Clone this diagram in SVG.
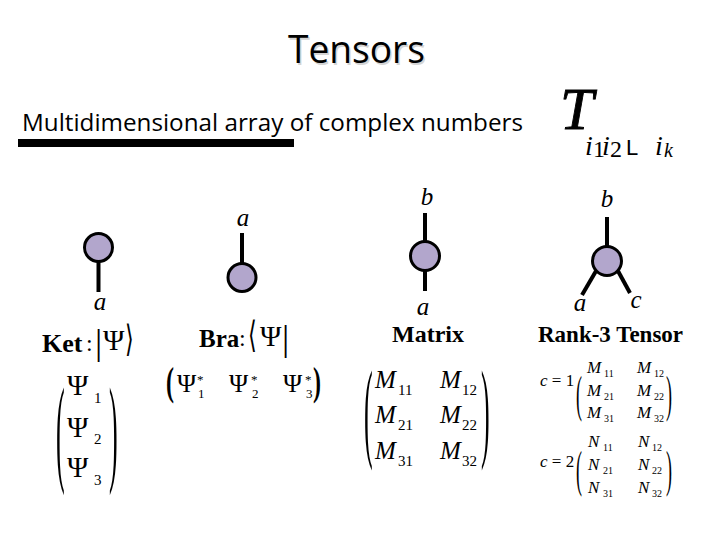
<svg xmlns="http://www.w3.org/2000/svg" width="720" height="540" viewBox="0 0 720 540">
<style>
.t{font-family:"Open Sans","Liberation Sans",sans-serif;fill:#000}
.s{font-family:"Liberation Serif","DejaVu Serif",serif;fill:#000}
.i{font-style:italic}
.b{font-weight:bold}
.node{fill:#b2a6cc;stroke:#000;stroke-width:3}
.leg{stroke:#000;stroke-width:4;stroke-linecap:butt}
</style>
<rect width="720" height="540" fill="#fff"/>
<g id="title">
<text class="t" x="289.5" y="64.5" font-size="38" textLength="137" lengthAdjust="spacingAndGlyphs" style="fill:#d4d4d4">Tensors</text>
<text class="t" x="288" y="63" font-size="38" textLength="137" lengthAdjust="spacingAndGlyphs">Tensors</text>
</g>
<g id="subtitle">
<text class="t" x="22" y="131" font-size="23" textLength="501" lengthAdjust="spacingAndGlyphs">Multidimensional array of complex numbers</text>
<rect x="18" y="139" width="276" height="8" fill="#000"/>
</g>
<g id="tensor-symbol">
<text class="s"><tspan class="i" x="560" y="129" font-size="60" stroke="#000" stroke-width="0.9">T</tspan><tspan class="i" x="585" y="155" font-size="28">i</tspan><tspan x="593" y="157" font-size="24">1</tspan><tspan class="i" x="602" y="155" font-size="28">i</tspan><tspan x="610" y="157" font-size="24">2</tspan><tspan x="626" y="155" font-size="22" style="font-family:'Liberation Sans',sans-serif">L</tspan><tspan class="i" x="655" y="155" font-size="28">i</tspan><tspan class="i" x="664" y="157" font-size="20">k</tspan></text>
</g>
<g id="connectors">
<line class="leg" x1="98.5" y1="262" x2="98.5" y2="292"/>
<line class="leg" x1="242" y1="233" x2="242" y2="263"/>
<line class="leg" x1="425" y1="213" x2="425" y2="242"/>
<line class="leg" x1="425" y1="270" x2="425" y2="291"/>
<line class="leg" x1="607" y1="217" x2="607" y2="247"/>
<line class="leg" x1="596" y1="271" x2="582" y2="295"/>
<line class="leg" x1="618" y1="271" x2="630" y2="293"/>
</g>
<g id="ket">
<circle class="node" cx="98.5" cy="247.5" r="14"/>
<text class="s i" x="100" y="310" font-size="25" text-anchor="middle">a</text>
<text class="s b" x="42" y="352" font-size="26">Ket</text>
<text class="s" x="86" y="351" font-size="24">:</text>
<text class="s" x="95" y="354" font-size="36">|</text>
<text class="s" x="103" y="350" font-size="29">Ψ</text>
<text class="s" x="125" y="351" font-size="28" style="font-family:'DejaVu Serif',serif" transform="translate(125 351) scale(0.8 1.3) translate(-125 -351)">⟩</text>
<text class="s" transform="translate(56 470) scale(1 4.6)" font-size="26">(</text>
<text class="s" transform="translate(109 470) scale(1 4.6)" font-size="26">)</text>
<text class="s" x="67" y="395" font-size="29">Ψ</text>
<text class="s" x="94" y="403" font-size="15">1</text>
<text class="s" x="67" y="437" font-size="29">Ψ</text>
<text class="s" x="94" y="444" font-size="15">2</text>
<text class="s" x="67" y="477" font-size="29">Ψ</text>
<text class="s" x="94" y="485" font-size="15">3</text>
</g>
<g id="bra">
<circle class="node" cx="242" cy="277.5" r="14"/>
<text class="s i" x="243" y="226" font-size="25" text-anchor="middle">a</text>
<text class="s b" x="199" y="347" font-size="25">Bra</text>
<text class="s" x="239" y="346" font-size="24">:</text>
<text class="s" x="248" y="347" font-size="28" style="font-family:'DejaVu Serif',serif" transform="translate(248 347) scale(0.8 1.3) translate(-248 -347)">⟨</text>
<text class="s" x="260" y="346" font-size="29">Ψ</text>
<text class="s" x="282" y="350" font-size="36">|</text>
<text class="s b" transform="translate(166 395) scale(1 1.7)" font-size="24">(</text>
<text class="s b" transform="translate(313 395) scale(1 1.7)" font-size="24">)</text>
<text class="s" x="177" y="392" font-size="26">Ψ</text>
<text class="s" x="197" y="384" font-size="13">*</text>
<text class="s" x="198" y="398" font-size="13">1</text>
<text class="s" x="229" y="392" font-size="26">Ψ</text>
<text class="s" x="251" y="384" font-size="13">*</text>
<text class="s" x="252" y="398" font-size="13">2</text>
<text class="s" x="283" y="392" font-size="26">Ψ</text>
<text class="s" x="305" y="384" font-size="13">*</text>
<text class="s" x="306" y="398" font-size="13">3</text>
</g>
<g id="matrix">
<circle class="node" cx="425" cy="256" r="14.5"/>
<text class="s i" x="427" y="205" font-size="25" text-anchor="middle">b</text>
<text class="s i" x="423" y="315" font-size="25" text-anchor="middle">a</text>
<text class="s b" x="392" y="342" font-size="24">Matrix</text>
<text class="s" transform="translate(364 447) scale(1 4.2)" font-size="26">(</text>
<text class="s" transform="translate(481 447) scale(1 4.2)" font-size="26">)</text>
<text class="s i" x="375" y="388" font-size="25">M</text>
<text class="s" x="398" y="395" font-size="15">11</text>
<text class="s i" x="440" y="388" font-size="25">M</text>
<text class="s" x="462" y="395" font-size="15">12</text>
<text class="s i" x="375" y="423" font-size="25">M</text>
<text class="s" x="398" y="430" font-size="15">21</text>
<text class="s i" x="440" y="423" font-size="25">M</text>
<text class="s" x="462" y="430" font-size="15">22</text>
<text class="s i" x="375" y="459" font-size="25">M</text>
<text class="s" x="398" y="466" font-size="15">31</text>
<text class="s i" x="440" y="459" font-size="25">M</text>
<text class="s" x="462" y="466" font-size="15">32</text>
</g>
<g id="rank3">
<circle class="node" cx="607" cy="261" r="14.5"/>
<text class="s i" x="607" y="207" font-size="25" text-anchor="middle">b</text>
<text class="s i" x="580" y="311" font-size="25" text-anchor="middle">a</text>
<text class="s i" x="636" y="308" font-size="25" text-anchor="middle">c</text>
<text class="s b" x="538" y="342" font-size="23">Rank-3 Tensor</text>
<text class="s" x="540" y="386" font-size="17"><tspan font-style="italic">c</tspan> = 1</text>
<text class="s" transform="translate(576 411) scale(1 2.8)" font-size="18">(</text>
<text class="s" transform="translate(666 411) scale(1 2.8)" font-size="18">)</text>
<text class="s i" x="587" y="373" font-size="17">M</text>
<text class="s" x="604" y="377" font-size="10">11</text>
<text class="s i" x="637" y="373" font-size="17">M</text>
<text class="s" x="654" y="377" font-size="10">12</text>
<text class="s i" x="587" y="396" font-size="17">M</text>
<text class="s" x="604" y="400" font-size="10">21</text>
<text class="s i" x="637" y="396" font-size="17">M</text>
<text class="s" x="654" y="400" font-size="10">22</text>
<text class="s i" x="587" y="418" font-size="17">M</text>
<text class="s" x="604" y="422" font-size="10">31</text>
<text class="s i" x="637" y="418" font-size="17">M</text>
<text class="s" x="654" y="422" font-size="10">32</text>
<text class="s" x="540" y="467" font-size="17"><tspan font-style="italic">c</tspan> = 2</text>
<text class="s" transform="translate(576 486) scale(1 2.8)" font-size="18">(</text>
<text class="s" transform="translate(666 486) scale(1 2.8)" font-size="18">)</text>
<text class="s i" x="588" y="447" font-size="17">N</text>
<text class="s" x="603" y="451" font-size="10">11</text>
<text class="s i" x="638" y="447" font-size="17">N</text>
<text class="s" x="652" y="451" font-size="10">12</text>
<text class="s i" x="588" y="470" font-size="17">N</text>
<text class="s" x="603" y="474" font-size="10">21</text>
<text class="s i" x="638" y="470" font-size="17">N</text>
<text class="s" x="652" y="474" font-size="10">22</text>
<text class="s i" x="588" y="493" font-size="17">N</text>
<text class="s" x="603" y="497" font-size="10">31</text>
<text class="s i" x="638" y="493" font-size="17">N</text>
<text class="s" x="652" y="497" font-size="10">32</text>
</g>
</svg>
